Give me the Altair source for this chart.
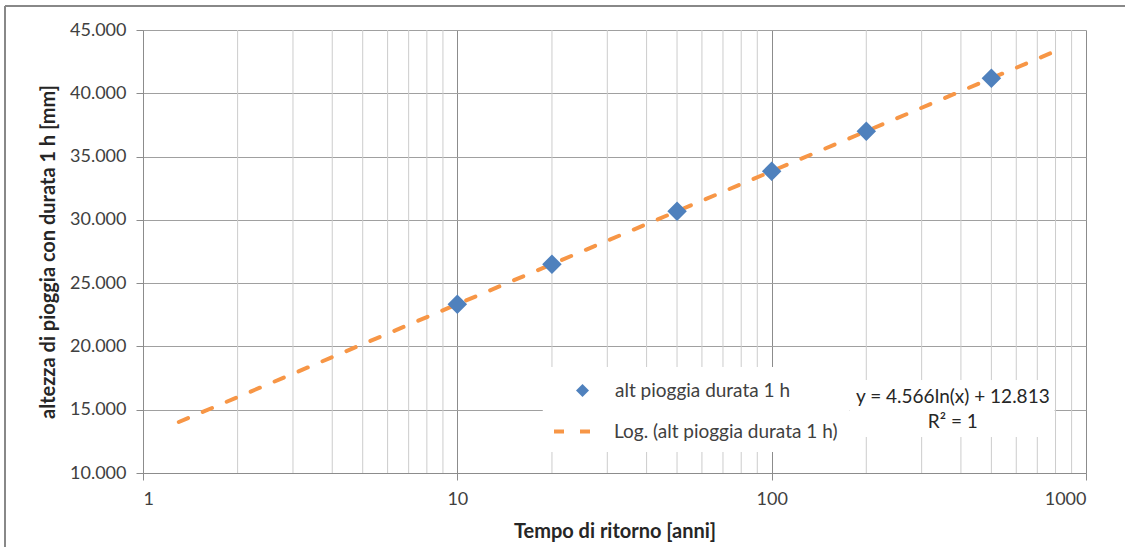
import altair as alt
import pandas as pd

# ---- data ----
return_period = [10, 20, 50, 100, 200, 500]
rain_height = [23.33, 26.49, 30.68, 33.84, 37.00, 41.19]
trend_T = [1.3, 800]
trend_h = [14.03, 43.33]
minor_T = [2, 3, 4, 5, 6, 7, 8, 9,
           20, 30, 40, 50, 60, 70, 80, 90,
           200, 300, 400, 500, 600, 700, 800, 900]
x_ticks = [1, 10, 100, 1000]
y_ticks = [10, 15, 20, 25, 30, 35, 40, 45]
series_name = "alt pioggia durata 1 h"
trend_name = "Log. (alt pioggia durata 1 h)"
eq_lines = ["y = 4.566ln(x) + 12.813", "R² = 1"]

# annotation anchors, in data units
eq_T = [377, 377]
eq_h = [16.0, 14.03]
box_T1 = [18.7, 177]
box_T2 = [177, 795]
box_h1 = [11.66, 12.85]
box_h2 = [18.37, 17.35]

W, H = 943, 443
FONT = "Lato"
BLUE = "#4F81BD"
ORANGE = "#F79646"
GRID = "#8c8c8c"

pts = pd.DataFrame({"T": return_period, "h": rain_height, "s1": [series_name] * len(return_period)})
trend = pd.DataFrame({"T": trend_T, "h": trend_h, "s2": [trend_name] * len(trend_T)})
minor = pd.DataFrame({"T": minor_T})
eq = pd.DataFrame({"T": eq_T, "h": eq_h, "txt": eq_lines})
boxes = pd.DataFrame({"T1": box_T1, "T2": box_T2, "h1": box_h1, "h2": box_h2})

xscale = alt.Scale(type="log", domain=[1, 1000], nice=False)
yscale = alt.Scale(domain=[10, 45], nice=False, zero=False)

xaxis = alt.Axis(values=x_ticks, format="d", grid=True, gridColor=GRID,
                 domainColor=GRID, tickColor=GRID, tickSize=7,
                 labelFont=FONT, labelFontSize=18, labelColor="#404040", labelPadding=10,
                 title="Tempo di ritorno [anni]", titleFont=FONT, titleFontSize=20,
                 titleFontWeight="bold", titleColor="#262626", titlePadding=13)
yaxis = alt.Axis(values=y_ticks, labelExpr="format(datum.value, '.3f')", grid=True,
                 gridColor="#a0a0a0", domainColor=GRID, tickColor=GRID, tickSize=7,
                 labelFont=FONT, labelFontSize=18, labelColor="#404040", labelPadding=10,
                 title="altezza di pioggia con durata 1 h [mm]", titleFont=FONT,
                 titleFontSize=20, titleFontWeight="bold", titleColor="#262626",
                 titlePadding=11)

minor_layer = alt.Chart(minor).mark_rule(color="#cccccc", strokeWidth=1).encode(
    x=alt.X("T:Q", scale=xscale, axis=xaxis),
)

box_layer = alt.Chart(boxes).mark_rect(color="white").encode(
    x=alt.X("T1:Q", scale=xscale, axis=xaxis),
    x2="T2:Q",
    y=alt.Y("h1:Q", scale=yscale, axis=yaxis),
    y2="h2:Q",
)

line_layer = alt.Chart(trend).mark_line(color=ORANGE, strokeWidth=4, strokeCap="round").encode(
    x=alt.X("T:Q", scale=xscale, axis=xaxis),
    y=alt.Y("h:Q", scale=yscale, axis=yaxis),
    strokeDash=alt.StrokeDash("s2:N", scale=alt.Scale(range=[[10, 16]]),
                              legend=alt.Legend(title=None, orient="none", legendX=409, legendY=378,
                                                symbolType="stroke", symbolSize=1849,
                                                symbolStrokeWidth=4, symbolStrokeColor=ORANGE,
                                                labelOffset=15, labelLimit=500, labelFont=FONT,
                                                labelFontSize=19, labelColor="#404040")),
)

point_layer = alt.Chart(pts).mark_point(filled=True, size=380, color=BLUE, opacity=1).encode(
    x=alt.X("T:Q", scale=xscale, axis=xaxis),
    y=alt.Y("h:Q", scale=yscale, axis=yaxis),
    shape=alt.Shape("s1:N", scale=alt.Scale(range=["diamond"]),
                    legend=alt.Legend(title=None, orient="none", legendX=430, legendY=351,
                                      symbolSize=169, symbolFillColor=BLUE, symbolStrokeWidth=0,
                                      labelOffset=23, labelLimit=500, labelFont=FONT,
                                      labelFontSize=19, labelColor="#404040")),
)

eq_layer = alt.Chart(eq).mark_text(font=FONT, fontSize=19, color="#262626", align="center",
                                   baseline="middle").encode(
    x=alt.X("T:Q", scale=xscale, axis=xaxis),
    y=alt.Y("h:Q", scale=yscale, axis=yaxis),
    text="txt:N",
)

one = alt.Data(values=[{"k": 1}])
border_v = alt.Chart(one).mark_rule(color="#888888", strokeWidth=2).encode(
    x=alt.value(-138), y=alt.value(-24), y2=alt.value(520))
border_h = alt.Chart(one).mark_rule(color="#888888", strokeWidth=2).encode(
    x=alt.value(-138), x2=alt.value(990), y=alt.value(-24))

chart = alt.layer(
    minor_layer, box_layer, line_layer, point_layer, eq_layer, border_v, border_h
).resolve_legend(shape="independent", strokeDash="independent").properties(
    width=W, height=H,
    autosize=alt.AutoSizeParams(type="none"),
    padding={"left": 143, "top": 30, "right": 39, "bottom": 74},
    background="white",
).configure_view(stroke=None)

chart.save("out.html", embed_options={"renderer": "svg", "actions": False})
